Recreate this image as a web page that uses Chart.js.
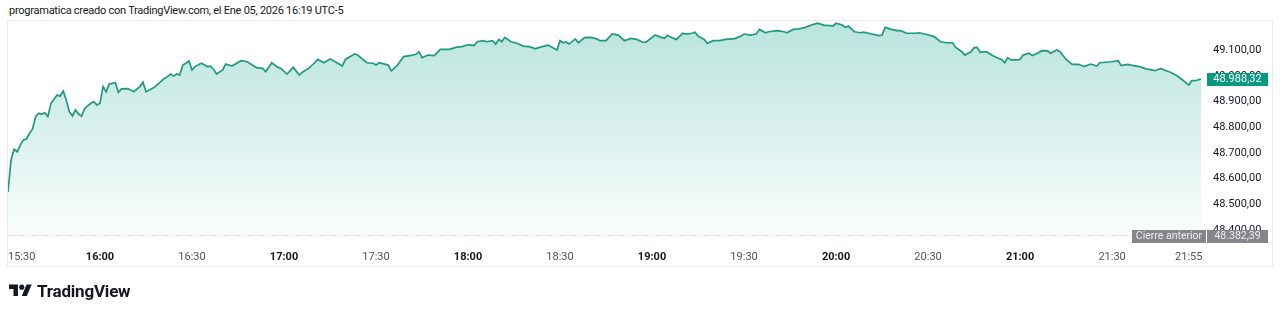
<!DOCTYPE html>
<html>
<head>
<meta charset="utf-8">
<script src="https://cdn.jsdelivr.net/npm/chart.js@4.4.1/dist/chart.umd.min.js"></script>
<style>
    html, body { margin: 0; padding: 0; background: #fff; }
    body { width: 1280px; height: 314px; position: relative; overflow: hidden; font-family: Roboto, "Noto Sans", sans-serif; }
    #title { position: absolute; left: 9px; top: 4px; font-size: 11px; letter-spacing: -0.25px; color: #131722; white-space: nowrap; }
    #chart { position: absolute; left: 0; top: 0; }
    #logo { position: absolute; left: 9px; top: 281px; display: flex; align-items: center; gap: 5px; font-weight: 700; font-size: 17px; color: #131722; letter-spacing: -0.2px; }
</style>
</head>
<body>
<div id="title">programatica creado con TradingView.com, el Ene 05, 2026 16:19 UTC-5</div>
<canvas id="chart" width="1280" height="314"></canvas>
<div id="logo">
    <svg width="23" height="18" viewBox="0 0 36 28"><path d="M14 22H7V11H0V4h14v18zM28 22h-8l7.5-18h8L28 22z" fill="#131722"/><circle cx="20" cy="8" r="4" fill="#131722"/></svg>
    <span>TradingView</span>
</div>
<script>
// Datos (hora, precio)
const times = [
    '15:30','15:31','15:32','15:33','15:34','15:35','15:36','15:37','15:38','15:39','15:40','15:41','15:42','15:43','15:44','15:45','15:46','15:47','15:48','15:49',
    '15:50','15:51','15:52','15:53','15:54','15:55','15:57','15:58','15:59','16:00','16:01','16:02','16:03','16:05','16:06','16:07','16:09','16:10','16:11','16:13',
    '16:14','16:15','16:17','16:18','16:21','16:22','16:23','16:24','16:25','16:26','16:27','16:28','16:29','16:30','16:31','16:33','16:35','16:36','16:37','16:38',
    '16:40','16:41','16:43','16:46','16:48','16:51','16:53','16:54','16:56','16:58','16:59','17:01','17:03','17:05','17:06','17:08','17:10','17:11','17:13','17:15',
    '17:17','17:19','17:20','17:23','17:24','17:27','17:29','17:30','17:31','17:34','17:35','17:37','17:39','17:42','17:43','17:44','17:45','17:47','17:49','17:51',
    '17:54','17:56','17:58','18:00','18:02','18:03','18:05','18:06','18:08','18:09','18:10','18:11','18:12','18:14','18:16','18:18','18:20','18:22','18:23','18:26',
    '18:27','18:29','18:30','18:31','18:32','18:33','18:35','18:36','18:38','18:40','18:42','18:43','18:45','18:47','18:49','18:51','18:53','18:55','18:57','18:58',
    '19:01','19:03','19:04','19:05','19:07','19:08','19:10','19:11','19:13','19:14','19:15','19:17','19:18','19:20','19:22','19:24','19:27','19:29','19:30','19:32',
    '19:34','19:35','19:37','19:38','19:41','19:43','19:44','19:46','19:48','19:50','19:52','19:54','19:56','19:58','19:59','20:00','20:02','20:03','20:04','20:06',
    '20:08','20:09','20:12','20:14','20:15','20:16','20:18','20:20','20:21','20:23','20:26','20:27','20:29','20:32','20:34','20:36','20:38','20:39','20:41','20:42',
    '20:44','20:45','20:46','20:47','20:49','20:51','20:53','20:54','20:55','20:56','20:57','20:59','21:00','21:01','21:03','21:04','21:06','21:07','21:09','21:10',
    '21:12','21:13','21:15','21:17','21:19','21:21','21:23','21:25','21:26','21:28','21:30','21:32','21:33','21:35','21:37','21:39','21:41','21:43','21:44','21:46',
    '21:47','21:49','21:51','21:53','21:55','21:56','21:57','21:59'
];
const prices = [
    48549,48673,48715,48705,48731,48751,48754,48777,48793,48842,48855,48851,48857,48842,48894,48910,48926,48922,48942,48907,
    48861,48844,48868,48852,48844,48874,48894,48900,48887,48894,48959,48939,48969,48974,48937,48950,48951,48946,48939,48959,
    48976,48939,48952,48959,48991,48998,49008,49000,49008,49004,49043,49050,49059,49024,49037,49050,49037,49039,49027,49008,
    49024,49047,49039,49060,49056,49033,49030,49017,49052,49034,49030,49008,49034,49004,49015,49030,49052,49065,49052,49067,
    49054,49039,49065,49086,49082,49052,49050,49043,49052,49043,49020,49043,49076,49082,49085,49095,49072,49082,49080,49104,
    49104,49112,49115,49122,49120,49134,49138,49134,49138,49125,49143,49134,49151,49134,49128,49117,49115,49106,49111,49121,
    49115,49102,49138,49130,49133,49125,49145,49130,49150,49151,49145,49138,49138,49164,49160,49138,49147,49143,49132,49132,
    49160,49151,49147,49159,49147,49143,49167,49164,49167,49171,49156,49143,49128,49138,49138,49143,49146,49156,49164,49160,
    49164,49182,49169,49173,49177,49173,49169,49182,49184,49190,49199,49206,49199,49197,49195,49206,49199,49190,49195,49173,
    49169,49171,49163,49158,49160,49190,49182,49177,49177,49167,49167,49169,49164,49154,49134,49130,49130,49112,49095,49082,
    49095,49111,49112,49093,49095,49080,49069,49065,49052,49072,49063,49063,49065,49082,49089,49080,49091,49099,49098,49089,
    49102,49095,49065,49046,49046,49037,49047,49039,49052,49054,49056,49060,49041,49046,49041,49037,49028,49024,49021,49030,
    49024,49015,49002,48985,48965,48982,48982,48988.32
];
const prevClose = 48382.39;
const timeTicks = ['15:30','16:00','16:30','17:00','17:30','18:00','18:30','19:00','19:30','20:00','20:30','21:00','21:30','21:55'];

const GREEN = '#089981';
const FONT = 'Roboto, "Noto Sans", sans-serif';

function toMin(s) {
    const [h, m] = s.split(':').map(Number);
    return h * 60 + m;
}

// 49100 -> "49.100,00"
function fmt(v) {
    const [i, d] = v.toFixed(2).split('.');
    return i.replace(/\B(?=(\d{3})+(?!\d))/g, '.') + ',' + d;
}

// Etiquetas de hora debajo del gráfico
const timeLabels = {
    id: 'timeLabels',
    afterDraw(chart) {
        const { ctx, chartArea, scales: { x } } = chart;
        ctx.save();
        ctx.textBaseline = 'middle';
        ctx.textAlign = 'center';
        timeTicks.forEach(t => {
            const m = toMin(t);
            const bold = m % 60 === 0;
            ctx.font = (bold ? '700' : '400') + ' 11px ' + FONT;
            ctx.fillStyle = bold ? '#131722' : '#50535e';
            const w = ctx.measureText(t).width;
            const px = Math.max(x.getPixelForValue(m), chartArea.left + w / 2);
            ctx.fillText(t, px, chartArea.bottom + 21);
        });
        ctx.restore();
    }
};

// Marco, línea de cierre anterior y etiquetas de precio
const priceMarks = {
    id: 'priceMarks',
    beforeDatasetsDraw(chart) {
        const { ctx, chartArea } = chart;
        ctx.save();
        ctx.strokeStyle = '#e9ebef';
        ctx.lineWidth = 1;
        ctx.strokeRect(7.5, chartArea.top + 0.5, 1265, 246);
        ctx.restore();
    },
    afterDraw(chart) {
        const { ctx, chartArea, scales: { y } } = chart;
        const last = prices[prices.length - 1];
        ctx.save();
        // línea punteada del cierre anterior
        const yc = Math.round(y.getPixelForValue(prevClose)) + 0.5;
        ctx.strokeStyle = '#c9ccd3';
        ctx.setLineDash([1, 2]);
        ctx.beginPath();
        ctx.moveTo(chartArea.left, yc);
        ctx.lineTo(chartArea.right, yc);
        ctx.stroke();
        ctx.setLineDash([]);

        ctx.font = '11px ' + FONT;
        ctx.textBaseline = 'middle';
        ctx.textAlign = 'center';
        const bx = chartArea.right + 2;

        // precio actual
        const yl = y.getPixelForValue(last);
        ctx.fillStyle = GREEN;
        ctx.fillRect(bx, Math.round(yl) - 6, 61, 13);
        ctx.fillStyle = '#ffffff';
        ctx.fillText(fmt(last), bx + 30.5, yl + 0.5);

        // cierre anterior
        ctx.fillStyle = '#84868c';
        ctx.fillRect(bx, Math.round(yc) - 6, 61, 13);
        ctx.fillRect(bx - 75, Math.round(yc) - 6, 74, 13);
        ctx.fillStyle = '#eeeeee';
        ctx.font = '10.5px ' + FONT;
        ctx.fillText(fmt(prevClose), bx + 30.5, yc + 0.5);
        ctx.fillText('Cierre anterior', bx - 38, yc + 0.5);
        ctx.restore();
    }
};

new Chart(document.getElementById('chart'), {
    type: 'line',
    data: {
        datasets: [{
            data: times.map((t, i) => ({ x: toMin(t), y: prices[i] })),
            borderColor: '#1f9a80',
            borderWidth: 1.7,
            pointRadius: 0,
            tension: 0,
            fill: 'start',
            backgroundColor: (c) => {
                const area = c.chart.chartArea;
                if (!area) return 'rgba(34,171,148,0.15)';
                const g = c.chart.ctx.createLinearGradient(0, area.top, 0, area.bottom);
                g.addColorStop(0, 'rgba(34,171,148,0.32)');
                g.addColorStop(1, 'rgba(34,171,148,0.02)');
                return g;
            }
        }]
    },
    options: {
        responsive: false,
        animation: false,
        layout: { padding: { left: 8, top: 20, right: 0, bottom: 78 } },
        plugins: { legend: { display: false }, tooltip: { enabled: false } },
        scales: {
            x: {
                type: 'linear',
                display: false,
                min: 930,
                max: 1320.3
            },
            y: {
                position: 'right',
                min: 48376.6,
                max: 49218.7,
                grid: { display: false, drawTicks: false },
                border: { display: false },
                ticks: {
                    stepSize: 100,
                    includeBounds: false,
                    padding: 8,
                    color: '#131722',
                    font: { family: FONT, size: 11 },
                    // la etiqueta pegada al borde superior no se muestra
                    callback: (v) => v > 49150 ? '' : fmt(v)
                },
                afterFit: (scale) => { scale.width = 75; }
            }
        }
    },
    plugins: [timeLabels, priceMarks]
});
</script>
</body>
</html>
